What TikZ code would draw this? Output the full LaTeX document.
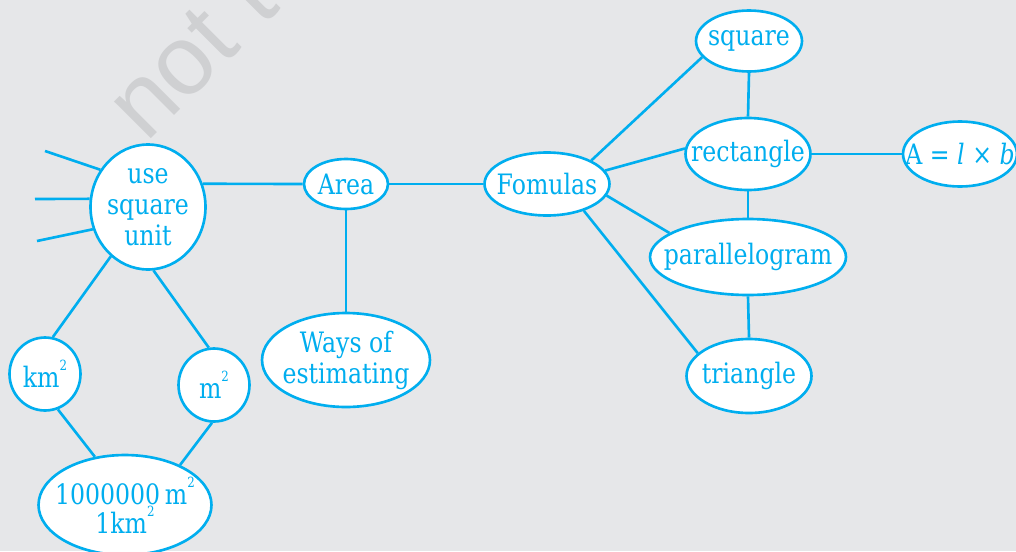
\documentclass[tikz,border=0pt]{standalone}
\usepackage{fontspec}
\setmainfont{DejaVu Serif}[FakeStretch=0.84]
\newfontfamily\wmfont{Liberation Sans}
\usetikzlibrary{shapes.geometric}
\definecolor{cblue}{RGB}{0,174,239}
\definecolor{bggray}{RGB}{230,231,233}
\definecolor{wmgray}{RGB}{207,208,210}
\newcommand{\sqsup}{\raisebox{0.6em}{\fontsize{8}{8}\selectfont 2}}
\tikzset{
  bub/.style={ellipse, draw=cblue, fill=white, line width=1.5pt, text=cblue,
    inner xsep=-30pt, inner ysep=-15pt, align=center,
    font=\fontsize{16}{17.6}\selectfont},
  link/.style={draw=cblue, line width=1.5pt},
}
\begin{document}
\begin{tikzpicture}[x=0.02cm, y=-0.02cm]
\clip (0,0) rectangle (1016,551);
\fill[bggray] (0,0) rectangle (1016,551);
\node[rotate=45, anchor=base west, text=wmgray, inner sep=0pt,
  font=\fontsize{56}{56}\selectfont\wmfont] (wm) at (146,144) {not to};

% nodes
\node[bub, minimum width=2.3cm, minimum height=2.5cm] (usesq) at (148,207) {use\\square\\unit};
\node[bub, minimum width=1.68cm, minimum height=1.0cm] (area) at (346,184) {Area};
\node[bub, minimum width=3.36cm, minimum height=1.88cm] (ways) at (346,360) {Ways of\\estimating};
\node[bub, minimum width=1.42cm, minimum height=1.46cm] (km) at (45,374) {km\sqsup};
\node[bub, minimum width=1.42cm, minimum height=1.46cm] (m) at (214,385) {m\sqsup};
\node[bub, minimum width=3.46cm, minimum height=2.0cm, font=\fontsize{16}{16.4}\selectfont] (big) at (125,505) {1000000\,m\sqsup\\1km\sqsup};
\node[bub, minimum width=2.5cm, minimum height=1.26cm] (fom) at (547,184) {Fomulas};
\node[bub, minimum width=2.12cm, minimum height=1.22cm] (sq) at (749,41) {square};
\node[bub, minimum width=2.5cm, minimum height=1.44cm] (rect) at (748,154) {rectangle};
\node[bub, minimum width=2.28cm, minimum height=1.3cm] (form) at (960,154) {A = {\itshape l} × {\itshape b}};
\node[bub, minimum width=3.92cm, minimum height=1.52cm] (par) at (748,257) {parallelogram};
\node[bub, minimum width=2.5cm, minimum height=1.48cm] (tri) at (749,376) {triangle};

% free ends of the stubs
\coordinate (s1) at (45,151);
\coordinate (s2) at (35,199);
\coordinate (s3) at (37,241);

% connectors
\draw[link] (s1) -- (usesq.142);
\draw[link] (s2) -- (usesq.172);
\draw[link] (s3) -- (usesq.202);
\draw[link] (usesq.23) -- (area.west);
\draw[link] (area.east) -- (fom.west);
\draw[link] (area.south) -- (ways.north);
\draw[link] (usesq.233) -- (km.78);
\draw[link] (usesq.275) -- (m.98);
\draw[link] (km.290) -- (big.122);
\draw[link] (m.267) -- (big.36);
\draw[link] (fom.28) -- (sq.199);
\draw[link] (fom.13) -- (rect.175);
\draw[link] (fom.-11) -- (par.163);
\draw[link] (fom.-36) -- (tri.156);
\draw[link] (sq.south) -- (rect.north);
\draw[link] (rect.east) -- (form.west);
\draw[link] (rect.south) -- (par.north);
\draw[link] (par.south) -- (tri.north);
\end{tikzpicture}
\end{document}
